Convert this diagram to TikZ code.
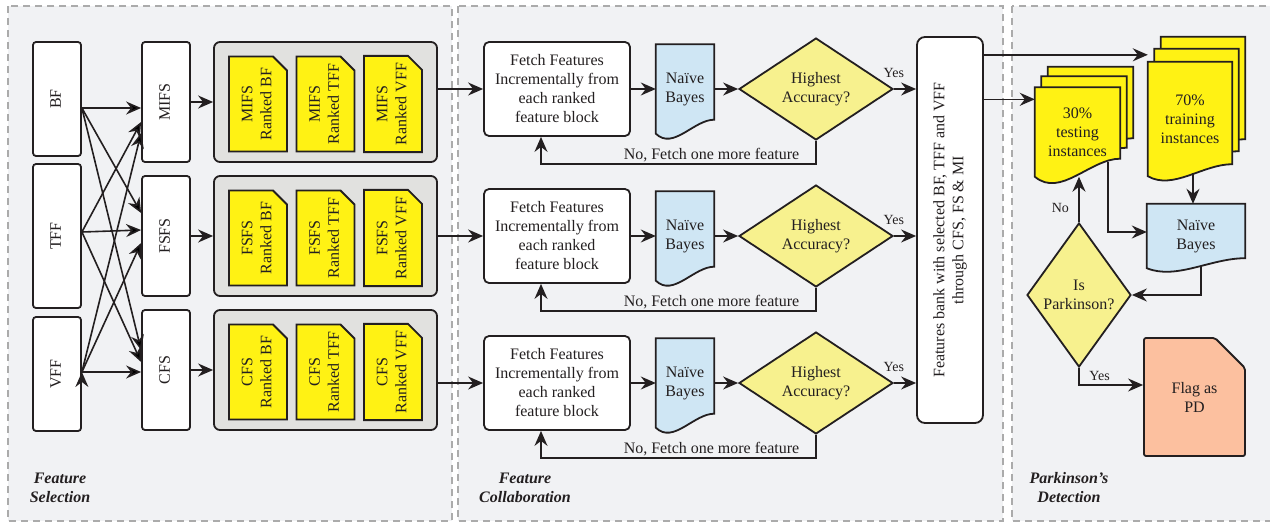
\documentclass[tikz,border=0pt]{standalone}
\usepackage{fontspec}
\setmainfont{Liberation Serif}
\usepackage{graphicx}
\usetikzlibrary{shapes.geometric}
\usetikzlibrary{shapes.misc}
\usetikzlibrary{positioning}
\usetikzlibrary{calc}
\usetikzlibrary{arrows.meta}

\definecolor{panelbg}{HTML}{F1F2F4}
\definecolor{panelline}{HTML}{ABABAB}
\definecolor{grpgray}{HTML}{E1E1DF}
\definecolor{cardyellow}{HTML}{FFF214}
\definecolor{diayellow}{HTML}{F7F18E}
\definecolor{nbblue}{HTML}{CFE6F4}
\definecolor{flagsalmon}{HTML}{FCC09F}
\definecolor{ink}{HTML}{231F20}

\pgfdeclarelayer{panels}
\pgfdeclarelayer{sheets}
\pgfsetlayers{panels,sheets,main}

\newcommand{\vtxt}[1]{\rotatebox{90}{\begin{tabular}{@{}c@{}}#1\end{tabular}}}
% sheet with wavy bottom behind node #1 (right corner raised by #2)
\newcommand{\wavedoc}[3]{%
  \begin{pgfonlayer}{sheets}
    \draw[docline,fill=#3] (#1.south west) -- (#1.north west) -- (#1.north east) -- ([yshift=#2pt]#1.south east)
      .. controls ($(#1.south west)!0.65!(#1.south east)+(0,-#2)$) and ($(#1.south west)!0.3!(#1.south east)+(0,1.2*#2)$) .. (#1.south west) -- cycle;
  \end{pgfonlayer}}

\begin{document}
\begin{tikzpicture}[x=1pt,y=-1pt,>={Stealth[length=15pt,width=13pt,inset=5pt]},
  every node/.style={font=\fontsize{16}{19}\selectfont,text=ink},
  panel/.style={draw=panelline,dash pattern=on 7pt off 5pt,line width=1.6pt,fill=panelbg},
  vbox/.style={draw=ink,line width=1.8pt,fill=white,rounded corners=3pt,minimum width=48pt,inner sep=0pt},
  grpbox/.style={draw=ink,line width=1.8pt,fill=grpgray,rounded corners=6pt,minimum width=223pt,minimum height=120pt},
  rankcard/.style={chamfered rectangle,chamfered rectangle corners=north east,chamfered rectangle sep=7pt,
    draw=ink,line width=1.8pt,fill=cardyellow,minimum width=58pt,minimum height=95pt,inner sep=0pt},
  fetchbox/.style={draw=ink,line width=1.8pt,fill=white,rounded corners=5pt,minimum width=146pt,minimum height=94pt,align=center,inner sep=0pt},
  docnode/.style={minimum width=58pt,minimum height=89pt,align=center,inner sep=0pt},
  docline/.style={draw=ink,line width=1.8pt},
  decision/.style={diamond,draw=ink,line width=1.8pt,fill=diayellow,align=center,inner sep=0pt},
  link/.style={->,draw=ink,line width=1.6pt},
  tag/.style={font=\fontsize{14}{16}\selectfont},
  paneltitle/.style={font=\fontsize{16}{19}\selectfont\bfseries\itshape,align=center}]

  \useasboundingbox (0,0) rectangle (1270,522);

  % panels
  \begin{pgfonlayer}{panels}
    \draw[panel] (8,6) rectangle (452,521);
    \draw[panel] (458,6) rectangle (1003,521);
    \draw[panel] (1012,6) rectangle (1290,521);
  \end{pgfonlayer}

  % feature selection
  \node[vbox,minimum height=114pt] (bf) at (57,99) {\vtxt{BF}};
  \node[vbox,minimum height=144pt] (tff) at (57,236) {\vtxt{TFF}};
  \node[vbox,minimum height=114pt] (vff) at (57,374) {\vtxt{VFF}};

  \node[vbox,minimum height=120pt] (mifs) at (166,102) {\vtxt{MIFS}};
  \node[vbox,minimum height=120pt,node distance=134pt] (fsfs) [below of=mifs] {\vtxt{FSFS}};
  \node[vbox,minimum height=120pt,node distance=134pt] (cfs) [below of=fsfs] {\vtxt{CFS}};

  \node[grpbox] (grp1) at (325.5,102) {};
  \node[grpbox,node distance=134pt] (grp2) [below of=grp1] {};
  \node[grpbox,node distance=134pt] (grp3) [below of=grp2] {};

  \foreach \sel/\g in {MIFS/grp1,FSFS/grp2,CFS/grp3}
    \foreach \feat [count=\i] in {BF,TFF,VFF}
      \node[rankcard] (\g-\i) at ($(\g.center)+(-135+67.5*\i,2)$) {\vtxt{\sel\\Ranked \feat}};

  \path[link]
    ([yshift=-9pt]bf.east) edge ([yshift=-6pt]mifs.west)
    ([yshift=-9pt]bf.east) edge ([yshift=23pt]fsfs.west)
    ([yshift=-9pt]bf.east) edge ([yshift=20pt]cfs.west)
    ([yshift=4pt]tff.east) edge ([yshift=-20pt]mifs.west)
    ([yshift=4pt]tff.east) edge ([yshift=6pt]fsfs.west)
    ([yshift=4pt]tff.east) edge ([yshift=8pt]cfs.west)
    ([yshift=2pt]vff.east) edge ([yshift=-31pt]mifs.west)
    ([yshift=2pt]vff.east) edge ([yshift=-7pt]fsfs.west)
    ([yshift=2pt]vff.east) edge ([yshift=-2pt]cfs.west);

  \foreach \s/\g in {mifs/grp1,fsfs/grp2,cfs/grp3}
    \draw[link] (\s.east) -- (\s.east -| \g.west);

  \node[paneltitle] (title1) at (60,487.5) {Feature\\Selection};

  % feature collaboration
  \node[fetchbox] (fetch1) at (557,89) {Fetch Features\\Incrementally from\\each ranked\\feature block};
  \node[fetchbox,node distance=147pt] (fetch2) [below of=fetch1] {Fetch Features\\Incrementally from\\each ranked\\feature block};
  \node[fetchbox,node distance=147pt] (fetch3) [below of=fetch2] {Fetch Features\\Incrementally from\\each ranked\\feature block};

  \node[docnode] (nb1) at (685,89) {Naïve\\Bayes};
  \node[docnode,node distance=147pt] (nb2) [below of=nb1] {Naïve\\Bayes};
  \node[docnode,node distance=147pt] (nb3) [below of=nb2] {Naïve\\Bayes};
  \wavedoc{nb1}{14}{nbblue}
  \wavedoc{nb2}{14}{nbblue}
  \wavedoc{nb3}{14}{nbblue}

  \node[decision,minimum width=154pt,minimum height=73pt] (acc1) at (816,89) {Highest\\Accuracy?};
  \node[decision,minimum width=154pt,minimum height=73pt,node distance=147pt] (acc2) [below of=acc1] {Highest\\Accuracy?};
  \node[decision,minimum width=154pt,minimum height=73pt,node distance=147pt] (acc3) [below of=acc2] {Highest\\Accuracy?};

  \node[vbox,minimum width=66pt,minimum height=386pt,rounded corners=8pt] (bank) at (950,230)
    {\vtxt{Features bank with selected BF, TFF and VFF\\through CFS, FS \& MI}};

  \foreach \n in {1,2,3}{
    \draw[link] (grp\n.east |- fetch\n.west) -- (fetch\n.west);
    \draw[link] (fetch\n.east) -- (fetch\n.east -| nb\n.west);
    \draw[link] (acc\n.west -| nb\n.east) -- (acc\n.west);
    \draw[link] (acc\n.east) -- node[tag,pos=0,above,yshift=7pt] {Yes} (acc\n.east -| bank.west);
    \draw[link] (acc\n.south) |- node[pos=0.69,above,inner sep=1pt] {No, Fetch one more feature}
      ([xshift=-16pt,yshift=-27pt]fetch\n.south) -- ([xshift=-16pt]fetch\n.south);
  }

  \node[paneltitle] (title2) at (525,487.5) {Feature\\Collaboration};

  % parkinson's detection
  \node[docnode,minimum width=84pt,minimum height=114pt] (trn3) at (1203,94) {};
  \node[docnode,minimum width=84pt,minimum height=114pt] (trn2) at (1196.5,106) {};
  \node[docnode,minimum width=84pt,minimum height=114pt] (trn1) at (1190,119) {70\%\\training\\instances};
  \wavedoc{trn3}{12}{cardyellow}
  \wavedoc{trn2}{12}{cardyellow}
  \wavedoc{trn1}{12}{cardyellow}

  \node[docnode,minimum width=85pt,minimum height=89pt] (tst3) at (1090.5,111.5) {};
  \node[docnode,minimum width=85pt,minimum height=89pt] (tst2) at (1084,121) {};
  \node[docnode,minimum width=85pt,minimum height=89pt] (tst1) at (1077.5,132) {30\%\\testing\\instances};
  \wavedoc{tst3}{18}{cardyellow}
  \wavedoc{tst2}{18}{cardyellow}
  \wavedoc{tst1}{18}{cardyellow}

  \node[docnode,minimum width=98pt,minimum height=64pt] (nbr) at (1196,236) {Naïve\\Bayes};
  \wavedoc{nbr}{10}{nbblue}

  \node[decision,minimum width=104pt,minimum height=144pt] (isp) at (1079,295) {Is\\Parkinson?};

  \node[rankcard,chamfered rectangle sep=15pt,fill=flagsalmon,minimum width=101pt,minimum height=118pt,align=center,rounded corners=2pt]
    (flag) at (1194.5,397) {Flag as\\PD};

  \coordinate (trnin) at ([yshift=-6pt]trn2.north);
  \coordinate (tstin) at ([yshift=-12pt]tst1.north west);
  \coordinate (trnout) at ([xshift=3pt,yshift=3pt]trn1.south);
  \coordinate (tstout) at ([xshift=-12pt,yshift=15pt]tst1.south east);

  \draw[link] (trnin -| bank.east) -- (trnin -| trn1.west);
  \draw[link] (tstin -| bank.east) -- (tstin);
  \draw[link] (trnout) -- (trnout |- nbr.north);
  \draw[link] (tstout) |- ([yshift=4pt]nbr.west);
  \draw[link] ([xshift=5pt,yshift=2pt]nbr.south) |- (isp.east);
  \draw[link] (isp.north) -- node[tag,pos=0.3,left=6pt] {No} (isp.north |- tst1.south);
  \draw[link] (isp.south) |- node[tag,pos=0.66,above] {Yes} ([yshift=12pt]flag.west);

  \node[paneltitle] (title3) at (1069,487.5) {Parkinson’s\\Detection};
\end{tikzpicture}
\end{document}
